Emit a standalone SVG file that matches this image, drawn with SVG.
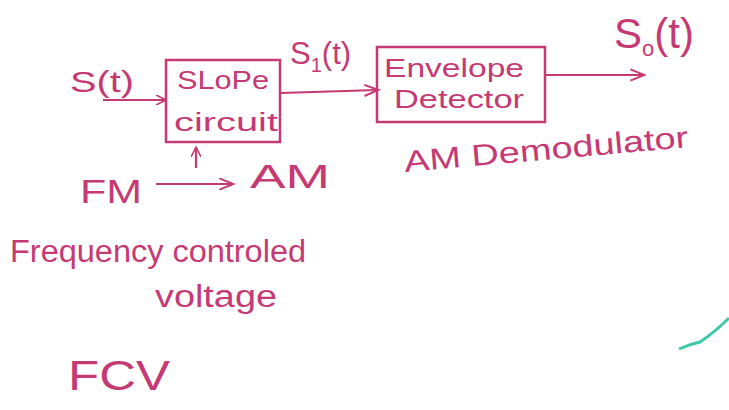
<svg xmlns="http://www.w3.org/2000/svg" width="729" height="410" viewBox="0 0 729 410">
<style>
text{font-family:"Liberation Sans",Arial,sans-serif;fill:#c63a73}
.box{fill:none;stroke:#c63a73;stroke-width:2.5}
.ln{fill:none;stroke:#c63a73;stroke-width:2.2}
</style>
<defs>
<marker id="ah" viewBox="0 0 10 10" refX="9" refY="5" markerWidth="12" markerHeight="10" markerUnits="userSpaceOnUse" orient="auto">
<path d="M0,0 L10,5 L0,10" fill="none" stroke="#c63a73" stroke-width="1.6"/>
</marker>
<marker id="ah2" viewBox="0 0 10 10" refX="9" refY="5" markerWidth="20" markerHeight="14" markerUnits="userSpaceOnUse" orient="auto">
<path d="M0,1 L10,5 L0,9" fill="none" stroke="#c63a73" stroke-width="1.4"/>
</marker>
</defs>
<rect width="729" height="410" fill="#fff"/>
<g id="connectors">
<line class="ln" x1="103" y1="100" x2="165" y2="100" marker-end="url(#ah)"/>
<line class="ln" x1="281" y1="93" x2="377" y2="90" marker-end="url(#ah2)"/>
<line class="ln" x1="545" y1="75" x2="643" y2="75" marker-end="url(#ah2)"/>
<line class="ln" x1="156" y1="184" x2="232" y2="184" marker-end="url(#ah2)"/>
<line class="ln" x1="196" y1="168" x2="196" y2="148" marker-end="url(#ah)"/>
</g>
<g id="slope">
<rect class="box" x="166" y="60" width="114" height="82"/>
<text x="177" y="89" font-size="26" textLength="92" lengthAdjust="spacingAndGlyphs">SLoPe</text>
<text x="174" y="131" font-size="26" textLength="104" lengthAdjust="spacingAndGlyphs">circuit</text>
</g>
<g id="envelope">
<rect class="box" x="377" y="47" width="168" height="75"/>
<text x="384" y="77" font-size="25" textLength="140" lengthAdjust="spacingAndGlyphs">Envelope</text>
<text x="394" y="108" font-size="25" textLength="130" lengthAdjust="spacingAndGlyphs">Detector</text>
</g>
<g id="labels">
<text x="70" y="92" font-size="30" textLength="64" lengthAdjust="spacingAndGlyphs">S(t)</text>
<text x="290" y="64" font-size="31">S<tspan font-size="20" dy="8">1</tspan><tspan dy="-8">(t)</tspan></text>
<text x="614" y="48" font-size="42">S<tspan font-size="22" dy="8">o</tspan><tspan dy="-8">(t)</tspan></text>
<text x="405" y="172" font-size="30" textLength="285" lengthAdjust="spacingAndGlyphs" transform="rotate(-5 405 172)">AM Demodulator</text>
<text x="80" y="203" font-size="34" textLength="62" lengthAdjust="spacingAndGlyphs">FM</text>
<text x="250" y="188" font-size="34" textLength="80" lengthAdjust="spacingAndGlyphs">AM</text>
<text x="10" y="262" font-size="31" textLength="296" lengthAdjust="spacingAndGlyphs">Frequency controled</text>
<text x="155" y="307" font-size="31" textLength="122" lengthAdjust="spacingAndGlyphs">voltage</text>
<text x="68" y="390" font-size="42" textLength="102" lengthAdjust="spacingAndGlyphs">FCV</text>
</g>
<path d="M679,349 Q690,344 700,342 Q715,332 729,318" fill="none" stroke="#3cc8a8" stroke-width="3"/>
</svg>
